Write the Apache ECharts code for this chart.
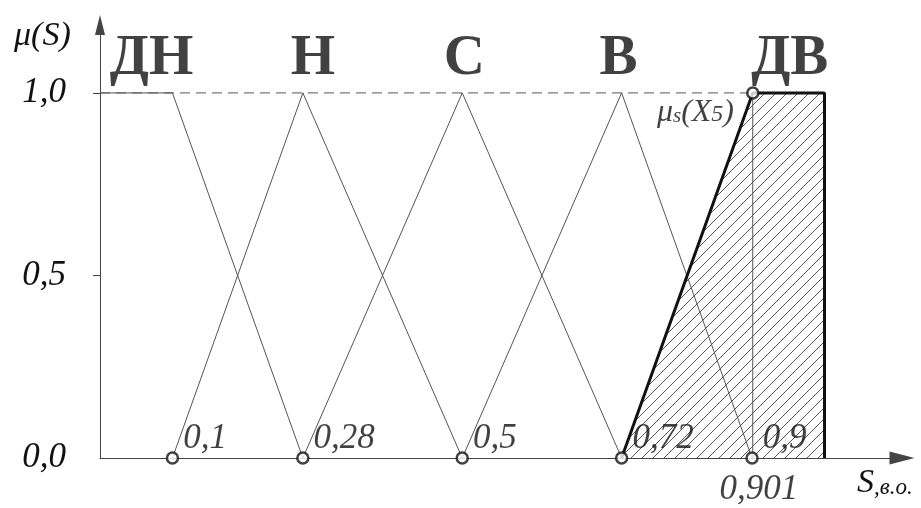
<!DOCTYPE html>
<html>
<head>
<meta charset="utf-8">
<script src="https://cdn.jsdelivr.net/npm/echarts@6/dist/echarts.min.js"></script>
<style>html,body{margin:0;padding:0;background:#fff}#c{width:921px;height:508px}</style>
</head>
<body>
<div id="c"></div>
<script>
// ---- data ----
var termNames = ['ДН', 'Н', 'С', 'В', 'ДВ'];
var termDN = [[0, 1], [0.1, 1], [0.28, 0]];
var termN = [[0.1, 0], [0.28, 1], [0.5, 0]];
var termS = [[0.28, 0], [0.5, 1], [0.72, 0]];
var termV = [[0.5, 0], [0.72, 1], [0.9, 0]];
var termDV = [[0.72, 0], [0.901, 1], [1.0, 1], [1.0, 0]];
var termPeaks = [0.1, 0.28, 0.5, 0.72, 0.901];
var basePoints = [0.1, 0.28, 0.5, 0.72, 0.9];
var baseLabels = ['0,1', '0,28', '0,5', '0,72', '0,9'];
var resultX = 0.901;
var resultLabel = '0,901';
var yTickValues = [0, 0.5, 1];
var yTickLabels = ['0,0', '0,5', '1,0'];

// hatch pattern
var P = 11;
var pc = document.createElement('canvas');
pc.width = P; pc.height = P;
var g = pc.getContext('2d');
g.strokeStyle = '#555';
g.lineWidth = 1;
g.beginPath();
g.moveTo(0, P); g.lineTo(P, 0);
g.moveTo(-1, 1); g.lineTo(1, -1);
g.moveTo(P - 1, P + 1); g.lineTo(P + 1, P - 1);
g.stroke();

var serif = '"Liberation Serif", "DejaVu Serif", serif';
var thin = { color: '#555', width: 1 };

var labelOffsets = [[-21, 0], [10, 0], [2, 0], [-3, 0], [37, 0]];

var chart = echarts.init(document.getElementById('c'), null, { renderer: 'canvas' });
chart.setOption({
  animation: false,
  backgroundColor: '#fff',
  grid: { left: 100, right: 19, top: 25, bottom: 50, containLabel: false },
  xAxis: {
    type: 'value', min: 0, max: 1.107,
    axisLine: { show: true, onZero: false, lineStyle: { color: '#444', width: 1 }, symbol: ['none', 'triangle'], symbolSize: [13, 25] },
    axisTick: { show: false }, axisLabel: { show: false }, splitLine: { show: false }
  },
  yAxis: {
    type: 'value', min: 0, max: 1.186, interval: 0.5,
    axisLine: { show: true, onZero: false, lineStyle: { color: '#444', width: 1 }, symbol: ['none', 'triangle'], symbolSize: [10, 20] },
    axisTick: { show: true, length: 7, customValues: [0.5, 1], lineStyle: { color: '#444' } },
    axisLabel: {
      show: true, margin: 34, customValues: yTickValues,
      formatter: function (v) { var i = yTickValues.indexOf(v); return i >= 0 ? yTickLabels[i] : ''; },
      fontFamily: serif, fontStyle: 'italic', fontSize: 35, color: '#111'
    },
    splitLine: { show: false }
  },
  series: [
    { type: 'line', data: [[0, 1], [resultX, 1]], symbol: 'none', lineStyle: { color: '#555', width: 1, type: [10, 6] }, z: 1 },
    { type: 'line', data: [[resultX, -0.03], [resultX, 1]], symbol: 'none', lineStyle: thin, z: 2 },
    { type: 'line', data: termDN, symbol: 'none', lineStyle: thin, z: 3 },
    { type: 'line', data: termN, symbol: 'none', lineStyle: thin, z: 3 },
    { type: 'line', data: termS, symbol: 'none', lineStyle: thin, z: 3 },
    { type: 'line', data: termV, symbol: 'none', lineStyle: thin, z: 3 },
    { type: 'line', data: termDV, symbol: 'none', lineStyle: { color: '#111', width: 3 },
      areaStyle: { color: { image: pc, repeat: 'repeat' }, opacity: 1 }, z: 4 },
    // base circles with labels
    { type: 'scatter', data: basePoints.map(function (x, i) { return { value: [x, 0], label: { formatter: baseLabels[i] } }; }),
      symbol: 'circle', symbolSize: 11,
      itemStyle: { color: '#fff', borderColor: '#111', borderWidth: 2.5 },
      label: { show: true, position: 'right', distance: 4, offset: [0, -19], fontFamily: serif, fontStyle: 'italic', fontSize: 35, color: '#111' },
      z: 6 },
    // result point at top
    { type: 'scatter', data: [{ value: [resultX, 1] }],
      symbol: 'circle', symbolSize: 11,
      itemStyle: { color: '#fff', borderColor: '#111', borderWidth: 2.5 },
      label: { show: true, position: 'left', distance: 12, offset: [0, 20],
        formatter: '{a|μ}{b|s}{a|(X}{c|5}{a|)}',
        rich: {
          a: { fontFamily: serif, fontStyle: 'italic', fontSize: 32, color: '#111' },
          b: { fontFamily: serif, fontStyle: 'italic', fontSize: 21, color: '#111', padding: [8, 0, 0, 0] },
          c: { fontFamily: serif, fontStyle: 'italic', fontSize: 24, color: '#111', padding: [4, 0, 0, 0] }
        } },
      z: 6 },
    // result value label below axis
    { type: 'scatter', data: [{ value: [resultX, 0] }], symbolSize: 0, silent: true,
      label: { show: true, position: 'bottom', distance: 14, offset: [6, 0], formatter: resultLabel,
        fontFamily: serif, fontStyle: 'italic', fontSize: 35, color: '#111' }, z: 5 },
    // term names
    { type: 'scatter', data: termPeaks.map(function (x, i) { return { value: [x, 1], label: { formatter: termNames[i], offset: labelOffsets[i] } }; }),
      symbolSize: 0, silent: true,
      label: { show: true, position: 'top', distance: 5, fontFamily: serif, fontWeight: 'bold', fontSize: 57, color: '#111' },
      z: 5 }
  ],
  graphic: [
    { type: 'text', left: 14, top: 19, style: { text: 'μ(S)', font: 'italic 34px "Liberation Serif", serif', fill: '#111' } },
    { type: 'text', left: 857, top: 466, style: {
        text: '{a|S}{b|,в.о.}',
        rich: {
          a: { fontFamily: serif, fontStyle: 'italic', fontSize: 34, fill: '#111' },
          b: { fontFamily: serif, fontStyle: 'italic', fontSize: 23, fill: '#111', padding: [9, 0, 0, 0] }
        } } }
  ]
});
</script>
</body>
</html>
